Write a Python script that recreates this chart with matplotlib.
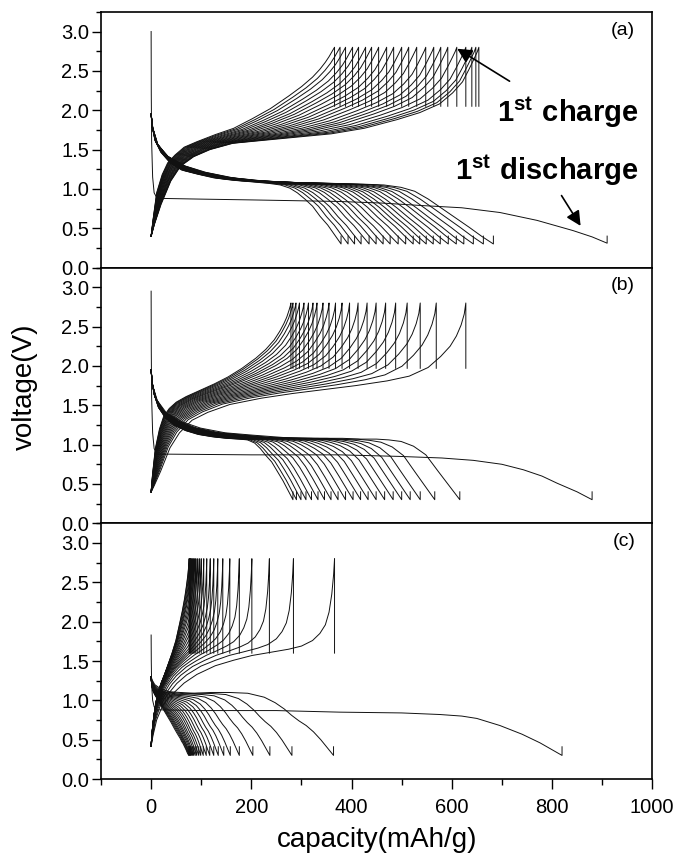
import numpy as np
import matplotlib
matplotlib.use("Agg")
import matplotlib.pyplot as plt
from matplotlib.ticker import MultipleLocator

plt.rcParams['font.family'] = ['Liberation Sans', 'DejaVu Sans']
plt.rcParams['mathtext.fontset'] = 'custom'
plt.rcParams['mathtext.rm'] = 'Liberation Sans'
plt.rcParams['mathtext.bf'] = 'Liberation Sans:bold'

# ---------------- data ----------------
panel_labels = ["(a)", "(b)", "(c)"]

# end capacities (mAh/g) of each discharge (first entry = 1st discharge) and charge
a_discharge_end = [910, 683, 663, 643, 624, 609, 593, 577, 563, 549, 536, 523, 508, 493, 477, 463, 449, 435, 419, 406, 393, 379]
a_charge_end = [654, 648, 640, 628, 610, 592, 578, 564, 548, 530, 514, 500, 484, 470, 454, 440, 428, 414, 402, 388, 377, 366]
b_discharge_end = [880, 616, 566, 537, 517, 500, 483, 466, 449, 433, 418, 403, 388, 373, 359, 346, 333, 320, 309, 299, 290, 283]
b_charge_end = [628, 569, 537, 511, 488, 468, 449, 431, 413, 396, 381, 368, 355, 343, 331, 323, 314, 305, 296, 289, 283, 279]
c_discharge_end = [820, 364, 281, 237, 203, 176, 158, 145, 134, 125, 117, 110, 104, 99, 95, 91, 88, 85, 83, 81, 79, 78, 77, 76, 75]
c_charge_end = [366, 284, 236, 201, 176, 157, 143, 133, 125, 118, 111, 105, 100, 96, 92, 89, 86, 84, 82, 80, 79, 78, 77, 76, 76]

# first discharge curves (capacity, voltage)
a_first_dis_cap = [0, 0.3, 1, 3, 6, 12, 100, 200, 376, 460, 536, 620, 696, 770, 842, 880, 910]
a_first_dis_v = [3.0, 2.2, 1.6, 1.15, 0.95, 0.88, 0.87, 0.86, 0.84, 0.82, 0.79, 0.76, 0.70, 0.60, 0.47, 0.39, 0.31]
b_first_dis_cap = [0, 0.3, 1, 3, 6, 12, 200, 376, 496, 580, 643, 700, 743, 780, 810, 850, 880]
b_first_dis_v = [2.95, 2.2, 1.6, 1.15, 0.95, 0.88, 0.87, 0.87, 0.85, 0.83, 0.80, 0.75, 0.68, 0.60, 0.51, 0.40, 0.30]
c_first_dis_cap = [0, 0.3, 1, 3, 6, 12, 100, 250, 376, 500, 576, 620, 650, 696, 740, 776, 820]
c_first_dis_v = [1.83, 1.5, 1.2, 1.0, 0.92, 0.88, 0.87, 0.87, 0.85, 0.84, 0.82, 0.80, 0.77, 0.68, 0.57, 0.46, 0.30]

# voltage profiles vs. fraction of the cycle capacity (read for first/last cycles)
charge_frac = [0, 0.01, 0.03, 0.06, 0.09, 0.13, 0.18, 0.25, 0.35, 0.45, 0.55, 0.65, 0.75, 0.82, 0.88, 0.92, 0.95, 0.97, 0.985, 0.995, 1.0]
a_charge_first_v = [0.40, 0.55, 0.80, 1.10, 1.29, 1.41, 1.50, 1.58, 1.62, 1.66, 1.70, 1.77, 1.88, 1.97, 2.08, 2.22, 2.36, 2.52, 2.65, 2.74, 2.80]
a_charge_last_v = [0.40, 0.60, 0.95, 1.18, 1.33, 1.43, 1.53, 1.60, 1.69, 1.77, 1.89, 2.02, 2.18, 2.30, 2.42, 2.52, 2.61, 2.68, 2.74, 2.78, 2.80]
b_charge_first_v = [0.40, 0.48, 0.66, 0.96, 1.15, 1.31, 1.41, 1.51, 1.59, 1.65, 1.70, 1.75, 1.81, 1.87, 1.98, 2.12, 2.25, 2.38, 2.52, 2.66, 2.80]
b_charge_last_v = [0.40, 0.62, 0.95, 1.20, 1.36, 1.46, 1.54, 1.61, 1.69, 1.77, 1.86, 1.97, 2.10, 2.21, 2.33, 2.44, 2.54, 2.62, 2.70, 2.76, 2.80]
c_charge_first_v = [0.42, 0.55, 0.75, 0.92, 1.02, 1.11, 1.22, 1.33, 1.44, 1.51, 1.57, 1.61, 1.65, 1.69, 1.76, 1.85, 1.96, 2.12, 2.35, 2.60, 2.80]
c_charge_last_v = [0.42, 0.48, 0.58, 0.72, 0.84, 0.97, 1.08, 1.19, 1.32, 1.46, 1.60, 1.76, 1.98, 2.14, 2.30, 2.43, 2.54, 2.62, 2.70, 2.76, 2.80]

discharge_frac = [0, 0.005, 0.02, 0.05, 0.1, 0.16, 0.24, 0.33, 0.43, 0.53, 0.62, 0.68, 0.73, 0.77, 0.81, 0.85, 0.89, 0.93, 0.965, 1.0]
a_dis_second_v = [1.95, 1.77, 1.56, 1.41, 1.29, 1.21, 1.14, 1.10, 1.08, 1.07, 1.06, 1.05, 1.02, 0.97, 0.87, 0.75, 0.63, 0.51, 0.40, 0.30]
a_dis_last_v = [1.95, 1.80, 1.62, 1.47, 1.33, 1.24, 1.19, 1.14, 1.11, 1.09, 1.07, 1.05, 1.01, 0.95, 0.87, 0.78, 0.65, 0.54, 0.42, 0.30]
b_dis_second_v = [1.95, 1.75, 1.56, 1.40, 1.29, 1.21, 1.15, 1.12, 1.09, 1.08, 1.08, 1.07, 1.07, 1.06, 1.04, 0.98, 0.87, 0.66, 0.48, 0.30]
b_dis_last_v = [1.95, 1.82, 1.65, 1.48, 1.34, 1.25, 1.18, 1.13, 1.10, 1.08, 1.07, 1.06, 1.02, 0.95, 0.86, 0.78, 0.66, 0.54, 0.42, 0.30]
c_dis_second_v = [1.30, 1.26, 1.20, 1.15, 1.11, 1.10, 1.09, 1.10, 1.10, 1.09, 1.04, 0.97, 0.89, 0.81, 0.74, 0.68, 0.60, 0.50, 0.40, 0.30]
c_dis_last_v = [1.30, 1.25, 1.18, 1.12, 1.07, 1.02, 0.95, 0.88, 0.80, 0.72, 0.64, 0.59, 0.55, 0.52, 0.48, 0.45, 0.41, 0.37, 0.33, 0.30]

# relaxation voltages at the end of charge / discharge
charge_relax_v = [2.05, 1.97, 1.60]
discharge_relax_v = [0.40, 0.40, 0.41]

# ---------------- figure ----------------
fig = plt.figure(figsize=(6.78, 8.59), dpi=100)
left, width = 0.149, 0.813
h = 0.2977
bottoms = [0.0931 + 2 * h, 0.0931 + h, 0.0931]

panels = [
    (a_first_dis_cap, a_first_dis_v, a_discharge_end, a_charge_end,
     a_dis_second_v, a_dis_last_v, a_charge_first_v, a_charge_last_v),
    (b_first_dis_cap, b_first_dis_v, b_discharge_end, b_charge_end,
     b_dis_second_v, b_dis_last_v, b_charge_first_v, b_charge_last_v),
    (c_first_dis_cap, c_first_dis_v, c_discharge_end, c_charge_end,
     c_dis_second_v, c_dis_last_v, c_charge_first_v, c_charge_last_v),
]

lc = '#111111'
lw = 0.7
axes = []
for k, (fcap, fv, dend, cend, dsec, dlast, cfirst, clast) in enumerate(panels):
    ax = fig.add_axes([left, bottoms[k], width, h])
    axes.append(ax)
    # first discharge + relaxation tick
    ax.plot(list(fcap) + [fcap[-1]], list(fv) + [discharge_relax_v[k]], color=lc, lw=lw)
    # subsequent discharges
    nd = len(dend) - 1
    gd = np.array(discharge_frac)
    for i, Q in enumerate(dend[1:]):
        w = 1 - i / (nd - 1)
        v = w * np.array(dsec) + (1 - w) * np.array(dlast)
        x = gd * Q
        ax.plot(np.append(x, Q), np.append(v, discharge_relax_v[k]), color=lc, lw=lw)
    # charges
    nc = len(cend)
    gc = np.array(charge_frac)
    for i, Q in enumerate(cend):
        w = 1 - i / (nc - 1)
        v = w * np.array(cfirst) + (1 - w) * np.array(clast)
        x = gc * Q
        ax.plot(np.append(x, Q), np.append(v, charge_relax_v[k]), color=lc, lw=lw)

    ax.set_xlim(-100, 1000)
    ax.set_ylim(0, 3.25)
    ax.yaxis.set_minor_locator(MultipleLocator(0.25))
    ax.set_yticks([0, 0.5, 1.0, 1.5, 2.0, 2.5, 3.0])
    ax.set_yticklabels(["0.0", "0.5", "1.0", "1.5", "2.0", "2.5", "3.0"])
    ax.tick_params(axis='y', which='major', direction='out', length=6.5, width=1.0,
                   labelsize=14.5, right=False, pad=2)
    ax.tick_params(axis='y', which='minor', direction='out', length=3.5, width=1.0, right=False)
    for s in ax.spines.values():
        s.set_linewidth(1.2)
    ax.text(0.969, 0.962, panel_labels[k], transform=ax.transAxes, ha='right', va='top',
            fontsize=14)
    if k < 2:
        ax.tick_params(axis='x', which='both', bottom=False, labelbottom=False)
    else:
        ax.xaxis.set_minor_locator(MultipleLocator(100))
        ax.set_xticks([0, 200, 400, 600, 800, 1000])
        ax.tick_params(axis='x', which='major', direction='out', length=7, width=1.0,
                       labelsize=14.5, pad=7)
        ax.tick_params(axis='x', which='minor', direction='out', length=4, width=1.0)
        ax.set_xlabel("capacity(mAh/g)", fontsize=20, labelpad=7)

fig.text(0.037, bottoms[1] + h / 2 + 0.01, "voltage(V)", rotation=90, ha='center', va='center',
         fontsize=20)

axa = axes[0]
axa.text(972, 1.97, r"$\mathbf{1^{st}\ charge}$", ha='right', va='center', fontsize=21)
axa.text(972, 1.24, r"$\mathbf{1^{st}\ discharge}$", ha='right', va='center', fontsize=21)
axa.annotate("", xy=(606, 2.80), xytext=(720, 2.35),
             arrowprops=dict(arrowstyle='-|>', mutation_scale=22, lw=1.2, color='k'))
axa.annotate("", xy=(860, 0.50), xytext=(816, 0.945),
             arrowprops=dict(arrowstyle='-|>', mutation_scale=22, lw=1.2, color='k'))

fig.savefig("out.png", dpi=100)
